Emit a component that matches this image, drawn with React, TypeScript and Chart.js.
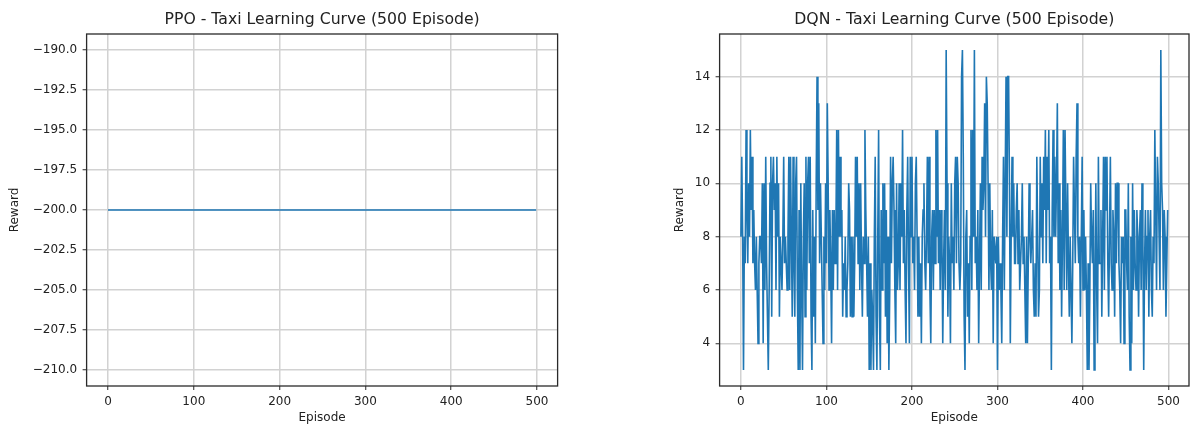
import React, { useEffect, useRef } from "react";
import { Chart, registerables } from "chart.js";

Chart.register(...registerables);

// ---------- data ----------
const EPISODE_COUNT = 500;
const PPO_REWARD_VALUE = -200; // flat at -200 for every episode in the picture
const PPO_REWARDS: number[] = Array.from({ length: EPISODE_COUNT }, () => PPO_REWARD_VALUE);

const DQN_REWARDS: number[] = [
  8, 11, 8, 3, 8, 7, 12, 9, 7, 10,
  8, 12, 9, 11, 7, 9, 7, 6, 8, 6,
  4, 7, 8, 8, 7, 10, 4, 10, 6, 11,
  7, 5, 3, 6, 10, 11, 5, 10, 11, 9,
  10, 6, 11, 8, 10, 5, 8, 7, 6, 8,
  11, 7, 8, 7, 6, 8, 11, 6, 11, 8,
  5, 11, 7, 5, 10, 11, 6, 3, 9, 3,
  10, 6, 3, 8, 10, 5, 11, 6, 10, 11,
  7, 11, 5, 3, 9, 5, 8, 4, 10, 14,
  9, 13, 7, 10, 8, 6, 4, 8, 6, 10,
  7, 13, 10, 6, 9, 7, 4, 9, 6, 9,
  7, 8, 12, 6, 12, 8, 11, 8, 9, 5,
  7, 6, 8, 5, 6, 7, 10, 9, 5, 8,
  5, 8, 5, 7, 11, 8, 11, 7, 10, 6,
  10, 7, 5, 8, 7, 12, 9, 7, 5, 8,
  3, 7, 3, 6, 5, 3, 8, 11, 5, 3,
  8, 12, 5, 3, 9, 6, 10, 7, 10, 5,
  9, 4, 8, 3, 6, 11, 7, 10, 11, 9,
  6, 4, 10, 6, 7, 10, 6, 10, 8, 12,
  7, 9, 6, 4, 9, 11, 7, 4, 11, 8,
  11, 7, 8, 6, 10, 11, 8, 5, 8, 5,
  7, 4, 8, 9, 10, 7, 6, 8, 11, 7,
  11, 6, 4, 8, 9, 6, 9, 7, 12, 8,
  12, 7, 9, 6, 9, 8, 4, 7, 9, 6,
  15, 10, 5, 8, 7, 4, 10, 7, 8, 6,
  10, 11, 7, 11, 10, 7, 6, 7, 14, 15,
  11, 5, 3, 8, 9, 5, 7, 4, 8, 12,
  6, 12, 8, 15, 7, 8, 6, 9, 4, 7,
  10, 6, 11, 9, 10, 13, 8, 14, 13, 10,
  6, 10, 7, 6, 9, 4, 8, 8, 7, 8,
  3, 8, 6, 7, 6, 4, 8, 11, 6, 10,
  14, 8, 14, 14, 10, 4, 8, 11, 8, 10,
  7, 7, 9, 10, 7, 9, 6, 7, 8, 10,
  7, 8, 6, 4, 8, 4, 7, 10, 8, 7,
  8, 9, 6, 5, 7, 5, 11, 8, 5, 6,
  11, 8, 10, 7, 11, 9, 12, 7, 11, 9,
  12, 7, 8, 3, 9, 12, 8, 11, 8, 10,
  13, 7, 10, 6, 9, 5, 8, 12, 6, 12,
  12, 6, 10, 7, 5, 8, 6, 4, 7, 11,
  9, 7, 11, 13, 8, 7, 8, 5, 8, 11,
  6, 9, 6, 8, 6, 3, 7, 3, 6, 10,
  8, 7, 9, 3, 6, 10, 6, 4, 11, 7,
  7, 9, 5, 8, 11, 6, 11, 9, 11, 7,
  5, 8, 11, 7, 6, 9, 8, 5, 10, 7,
  10, 10, 7, 6, 4, 8, 7, 8, 4, 9,
  9, 7, 6, 10, 5, 3, 8, 4, 10, 6,
  9, 7, 6, 9, 8, 5, 8, 9, 6, 10,
  8, 3, 7, 9, 6, 8, 9, 5, 8, 9,
  6, 5, 8, 7, 12, 9, 6, 11, 10, 8,
  6, 15, 10, 9, 6, 9, 8, 5, 7, 9,
];

const X_TICKS = [0, 100, 200, 300, 400, 500];
const PPO_Y_TICKS = [-210, -207.5, -205, -202.5, -200, -197.5, -195, -192.5, -190];
const DQN_Y_TICKS = [4, 6, 8, 10, 12, 14];

const PPO_TITLE = "PPO - Taxi Learning Curve (500 Episode)";
const DQN_TITLE = "DQN - Taxi Learning Curve (500 Episode)";
const X_LABEL = "Episode";
const Y_LABEL = "Reward";

// ---------- styling ----------
const FONT = '"DejaVu Sans", "Liberation Sans", sans-serif';
const TEXT = "#222";
const LINE = "#1f77b4";
const GRID = "#d2d2d2";
const SPINE = "#2a2a2a";

type Opts = {
  rewards: number[];
  title: string;
  yMin: number;
  yMax: number;
  yTicks: number[];
  yFmt: (v: number) => string;
  padLeft: number;
  yWidth: number;
  padRight: number;
};

function makeConfig(o: Opts): any {
  const framePlugin = {
    id: "frameTitle",
    afterDraw(chart: any) {
      const { ctx, chartArea: a } = chart;
      ctx.save();
      ctx.strokeStyle = SPINE;
      ctx.lineWidth = 1.3;
      ctx.strokeRect(a.left, a.top, a.right - a.left, a.bottom - a.top);
      ctx.fillStyle = TEXT;
      ctx.font = `15.7px ${FONT}`;
      ctx.textAlign = "center";
      ctx.textBaseline = "middle";
      ctx.fillText(o.title, (a.left + a.right) / 2, 20);
      ctx.restore();
    },
  };

  return {
    type: "line",
    data: {
      datasets: [
        {
          data: o.rewards.map((v, i) => ({ x: i, y: v })),
          borderColor: LINE,
          borderWidth: 1.6,
          pointRadius: 0,
          tension: 0,
          fill: false,
        },
      ],
    },
    options: {
      animation: false,
      responsive: false,
      events: [],
      layout: { padding: { left: o.padLeft, right: o.padRight, top: 34, bottom: 0 } },
      plugins: {
        legend: { display: false },
        title: { display: false },
        tooltip: { enabled: false },
      },
      scales: {
        x: {
          type: "linear",
          min: -24.95,
          max: 523.95,
          afterBuildTicks: (s: any) => {
            s.ticks = X_TICKS.map((value) => ({ value }));
          },
          afterFit: (s: any) => {
            s.height = 42;
          },
          grid: { color: GRID, lineWidth: 1.5, tickLength: 4, tickColor: SPINE, tickWidth: 1 },
          border: { display: false },
          ticks: {
            autoSkip: false,
            maxRotation: 0,
            padding: 4.5,
            color: TEXT,
            font: { family: FONT, size: 12 },
            callback: (v: any) => String(v),
          },
          title: {
            display: true,
            text: X_LABEL,
            color: TEXT,
            font: { family: FONT, size: 12 },
            padding: { top: 0, bottom: 2.5 },
          },
        },
        y: {
          type: "linear",
          min: o.yMin,
          max: o.yMax,
          afterBuildTicks: (s: any) => {
            s.ticks = o.yTicks.map((value) => ({ value }));
          },
          afterFit: (s: any) => {
            s.width = o.yWidth;
          },
          grid: { color: GRID, lineWidth: 1.5, tickLength: 4, tickColor: SPINE, tickWidth: 1 },
          border: { display: false },
          ticks: {
            autoSkip: false,
            padding: 5.5,
            color: TEXT,
            font: { family: FONT, size: 12 },
            callback: (v: any) => o.yFmt(Number(v)),
          },
          title: {
            display: true,
            text: Y_LABEL,
            color: TEXT,
            font: { family: FONT, size: 12 },
            padding: { top: 8.1, bottom: 0 },
          },
        },
      },
    },
    plugins: [framePlugin],
  };
}

function ChartCanvas({ opts, left }: { opts: Opts; left: number }) {
  const ref = useRef<HTMLCanvasElement | null>(null);
  useEffect(() => {
    if (!ref.current) return;
    const chart = new Chart(ref.current, makeConfig(opts));
    return () => chart.destroy();
  }, []);
  return (
    <canvas
      ref={ref}
      width={595}
      height={428}
      style={{ position: "absolute", left, top: 0, width: 595, height: 428, display: "block" }}
    />
  );
}

const minusFmt = (v: number) => v.toFixed(1).replace("-", "\u2212");

export default function App() {
  const ppo: Opts = {
    rewards: PPO_REWARDS,
    title: PPO_TITLE,
    yMin: -211,
    yMax: -189,
    yTicks: PPO_Y_TICKS,
    yFmt: minusFmt,
    padLeft: 0,
    yWidth: 86.6,
    padRight: 37.4,
  };
  const dqn: Opts = {
    rewards: DQN_REWARDS,
    title: DQN_TITLE,
    yMin: 2.4,
    yMax: 15.6,
    yTicks: DQN_Y_TICKS,
    yFmt: (v: number) => String(v),
    padLeft: 69.7,
    yWidth: 54.9,
    padRight: 1,
  };
  return (
    <div style={{ position: "absolute", left: 0, top: 0, width: 1190, height: 428, background: "#fff", overflow: "hidden" }}>
      <ChartCanvas opts={ppo} left={0} />
      <ChartCanvas opts={dqn} left={595} />
    </div>
  );
}
